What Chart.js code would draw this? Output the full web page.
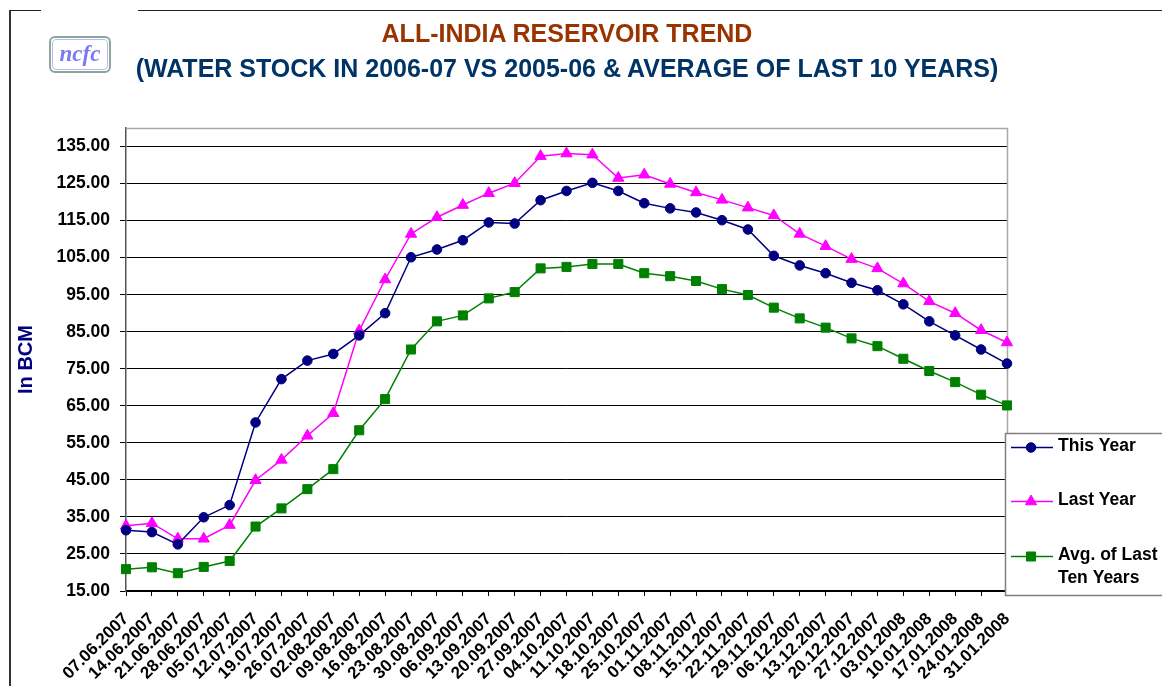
<!DOCTYPE html>
<html>
<head>
<meta charset="utf-8">
<script src="https://cdn.jsdelivr.net/npm/chart.js@4.4.0/dist/chart.umd.min.js"></script>
<style>
  html, body { margin: 0; padding: 0; background: #fff; }
  body { width: 1162px; height: 686px; position: relative; overflow: hidden; font-family: "Liberation Sans", Arial, sans-serif; }
  #chart { position: absolute; left: 0; top: 0; }
  .frame-left { position: absolute; left: 9px; top: 10px; width: 2px; height: 676px; background: #333; }
  .frame-top { position: absolute; top: 10px; height: 1px; background: #222; }
  .title { position: absolute; left: 0; width: 1134px; text-align: center; font-weight: bold; font-size: 25px; white-space: nowrap; }
  #title1 { top: 19px; color: #993300; }
  #title2 { top: 54px; color: #003366; }
  .logo { position: absolute; left: 49px; top: 36px; width: 58px; height: 33px; border: 2px solid #8ea59c; border-radius: 6px; }
  .logo-inner { position: absolute; left: 1px; top: 1px; right: 1px; bottom: 1px; border: 1px solid #b4b8ff; border-radius: 4px;
    font-family: "Liberation Serif", serif; font-style: italic; font-weight: bold; font-size: 23px; color: #7b7bf0; text-align: center; line-height: 28px; }
</style>
</head>
<body>
<canvas id="chart" width="1162" height="686"></canvas>
<div class="frame-left"></div>
<div class="frame-top" style="left:9px;width:32px"></div>
<div class="frame-top" style="left:138px;width:1024px"></div>
<div class="logo"><div class="logo-inner">ncfc</div></div>
<div class="title" id="title1">ALL-INDIA RESERVOIR TREND</div>
<div class="title" id="title2">(WATER STOCK IN 2006-07 VS 2005-06 &amp; AVERAGE OF LAST 10 YEARS)</div>
<script>
// week ending dates
const weekLabels = [
  "07.06.2007", "14.06.2007", "21.06.2007", "28.06.2007", "05.07.2007", "12.07.2007", "19.07.2007",
  "26.07.2007", "02.08.2007", "09.08.2007", "16.08.2007", "23.08.2007", "30.08.2007", "06.09.2007",
  "13.09.2007", "20.09.2007", "27.09.2007", "04.10.2007", "11.10.2007", "18.10.2007", "25.10.2007",
  "01.11.2007", "08.11.2007", "15.11.2007", "22.11.2007", "29.11.2007", "06.12.2007", "13.12.2007",
  "20.12.2007", "27.12.2007", "03.01.2008", "10.01.2008", "17.01.2008", "24.01.2008", "31.01.2008"
];

// storage in BCM
const thisYear = [
  31.4, 30.9, 27.6, 34.9, 38.2, 60.5, 72.2, 77.2, 79.0, 84.0, 90.0, 105.1, 107.2, 109.7, 114.5, 114.2, 120.5,
  123.0, 125.2, 123.0, 119.7, 118.3, 117.2, 115.1, 112.6, 105.5, 102.9, 100.8, 98.2, 96.2, 92.4, 87.8, 84.0, 80.2, 76.4
];
const lastYear = [
  32.6, 33.3, 29.1, 29.1, 32.8, 44.9, 50.4, 56.9, 63.0, 85.3, 99.1, 111.4, 115.9, 119.2, 122.4, 125.1, 132.4,
  133.1, 132.8, 126.5, 127.4, 124.9, 122.6, 120.6, 118.5, 116.4, 111.4, 108.1, 104.6, 102.1, 98.0, 93.2, 90.0, 85.4, 82.1
];
const avgTenYears = [
  20.9, 21.4, 19.8, 21.5, 23.1, 32.4, 37.3, 42.5, 47.9, 58.4, 66.8, 80.2, 87.8, 89.4, 94.0, 95.7, 102.1,
  102.5, 103.3, 103.3, 100.8, 100.0, 98.7, 96.5, 94.9, 91.5, 88.6, 86.1, 83.2, 81.1, 77.7, 74.4, 71.4, 68.0, 65.1
];

const yTicks = [15, 25, 35, 45, 55, 65, 75, 85, 95, 105, 115, 125, 135];
const seriesNames = ["This Year", "Last Year", ["Avg. of Last", "Ten Years"]];

// ===== PLUGINS ===== //
const plotFrame = {
  id: "plotFrame",
  beforeDatasetsDraw(chart) {
    const { ctx, chartArea: a } = chart;
    ctx.save();
    ctx.strokeStyle = "#a8a8a8";
    ctx.lineWidth = 1.5;
    ctx.beginPath();
    ctx.moveTo(a.left, a.top + 0.5);
    ctx.lineTo(a.right + 0.5, a.top + 0.5);
    ctx.lineTo(a.right + 0.5, a.bottom);
    ctx.stroke();
    ctx.restore();
  }
};

const boxLegend = {
  id: "boxLegend",
  afterDraw(chart) {
    const ctx = chart.ctx;
    const box = { x: 1005.5, y: 433.5, w: 200, h: 162 };
    const rows = [446, 500, 555];
    ctx.save();
    ctx.fillStyle = "#fff";
    ctx.fillRect(box.x, box.y, box.w, box.h);
    ctx.strokeStyle = "#7f7f7f";
    ctx.lineWidth = 1.5;
    ctx.strokeRect(box.x, box.y, box.w, box.h);
    chart.data.datasets.forEach((ds, i) => {
      const y = rows[i] + 1.5;
      ctx.strokeStyle = ds.borderColor;
      ctx.lineWidth = ds.borderWidth;
      ctx.beginPath();
      ctx.moveTo(1011, y);
      ctx.lineTo(1053, y);
      ctx.stroke();
      ctx.fillStyle = ds.pointBackgroundColor;
      ctx.strokeStyle = ds.pointBorderColor;
      ctx.lineWidth = 1;
      Chart.helpers.drawPoint(ctx, { pointStyle: ds.pointStyle, radius: ds.pointRadius, borderWidth: 1, rotation: 0 }, 1031, y);
      ctx.fillStyle = "#000";
      ctx.font = "bold 17.5px 'Liberation Sans', Arial, sans-serif";
      ctx.textBaseline = "middle";
      ctx.textAlign = "left";
      const lines = [].concat(seriesNames[i]);
      lines.forEach((t, j) => ctx.fillText(t, 1058, rows[i] + j * 23));
    });
    ctx.restore();
  }
};

function lineSeries(label, data, color, style, radius) {
  return {
    label: Array.isArray(label) ? label.join(" ") : label,
    data: data,
    borderColor: color,
    backgroundColor: color,
    pointBackgroundColor: color,
    pointBorderColor: color,
    borderWidth: 1.5,
    pointStyle: style,
    pointRadius: radius,
    pointBorderWidth: 1,
    tension: 0,
    clip: false
  };
}

new Chart(document.getElementById("chart"), {
  type: "line",
  data: {
    labels: weekLabels,
    datasets: [
      lineSeries(seriesNames[0], thisYear, "#000080", "circle", 4.8),
      lineSeries(seriesNames[1], lastYear, "#ff00ff", "triangle", 6.5),
      lineSeries(seriesNames[2], avgTenYears, "#008000", "rect", 6.4)
    ]
  },
  options: {
    responsive: false,
    animation: false,
    devicePixelRatio: 1,
    layout: { padding: { left: 14, top: 128, right: 155, bottom: 0 } },
    plugins: { legend: { display: false }, tooltip: { enabled: false }, title: { display: false } },
    scales: {
      x: {
        offset: false,
        afterFit(scale) { scale.height = 95; },
        grid: { drawOnChartArea: false, drawTicks: true, tickLength: 5, color: "#000", lineWidth: 1 },
        border: { color: "#000", width: 1.5 },
        ticks: {
          autoSkip: false, maxRotation: 45, minRotation: 45, padding: 13,
          color: "#000", font: { family: "'Liberation Sans', Arial, sans-serif", size: 17, weight: "bold" }
        }
      },
      y: {
        min: 15,
        max: 140,
        afterFit(scale) { scale.width = 112; },
        afterBuildTicks(scale) { scale.ticks = yTicks.map(v => ({ value: v })); },
        grid: { color: "#000", lineWidth: 1, tickLength: 6 },
        border: { color: "#555", width: 1.5 },
        title: {
          display: true, text: "In BCM", color: "#000080", padding: { top: 0, bottom: 0 },
          font: { family: "'Liberation Sans', Arial, sans-serif", size: 20, weight: "bold" }
        },
        ticks: {
          padding: 10, color: "#000",
          font: { family: "'Liberation Sans', Arial, sans-serif", size: 17.5, weight: "bold" },
          callback: v => v.toFixed(2)
        }
      }
    }
  },
  plugins: [plotFrame, boxLegend]
});
</script>
</body>
</html>
